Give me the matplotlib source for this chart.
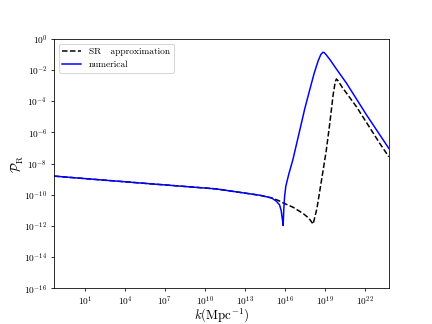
import matplotlib
matplotlib.use("Agg")
import matplotlib.pyplot as plt
from matplotlib import rcParams
from matplotlib.ticker import FixedLocator, NullLocator, LogFormatterMathtext

rcParams['font.family'] = 'serif'
rcParams['font.serif'] = ['cmr10']
rcParams['mathtext.fontset'] = 'cm'
rcParams['axes.formatter.use_mathtext'] = True

# log10(k) and log10(P_R)
logk_num = [-1.33, 2.0, 6.0, 10.82, 14.12, 15.0, 15.37, 15.6, 15.72, 15.8,
            15.87, 15.92, 15.98, 16.07, 16.3, 16.6, 17.12, 17.5, 17.87,
            18.2, 18.5, 18.7, 18.85, 18.95, 19.1, 19.4, 19.8, 20.63, 22.13,
            23.8]
logp_num = [-8.80, -9.03, -9.30, -9.62, -10.03, -10.2, -10.42, -10.65,
            -11.0, -11.5, -11.97, -10.9, -10.1, -9.45, -8.65, -7.75, -5.85,
            -4.45, -3.25, -2.2, -1.4, -1.0, -0.86, -0.88, -1.02, -1.35,
            -1.85, -2.85, -4.88, -7.02]

logk_sr = [-1.33, 2.0, 6.0, 10.82, 14.12, 15.0, 15.5, 15.87, 16.62, 17.37,
           17.8, 18.12, 18.4, 18.75, 19.1, 19.37, 19.62, 19.78, 19.87, 20.0,
           20.3, 21.37, 23.12, 23.8]
logp_sr = [-8.80, -9.03, -9.30, -9.62, -10.03, -10.2, -10.36, -10.52,
           -10.8, -11.2, -11.5, -11.88, -10.9, -9.06, -7.2, -5.42, -3.6,
           -2.75, -2.57, -2.7, -3.1, -4.35, -6.70, -7.56]

k_num = [10**v for v in logk_num]
p_num = [10**v for v in logp_num]
k_sr = [10**v for v in logk_sr]
p_sr = [10**v for v in logp_sr]

fig, ax = plt.subplots(figsize=(6, 4.5), dpi=72)

ax.plot(k_sr, p_sr, color='black', linestyle='--', linewidth=1.5,
        label='SR   approximation')
ax.plot(k_num, p_num, color='blue', linewidth=1.5, label='numerical')

ax.set_xscale('log')
ax.set_yscale('log')
ax.set_xlim(10**-1.33, 10**23.8)
ax.set_ylim(1e-16, 1)

ax.xaxis.set_major_locator(FixedLocator([10.0**e for e in range(1, 23, 3)]))
ax.yaxis.set_major_locator(FixedLocator([10.0**e for e in range(-16, 1, 2)]))
ax.xaxis.set_major_formatter(LogFormatterMathtext())
ax.yaxis.set_major_formatter(LogFormatterMathtext())
ax.xaxis.set_minor_locator(NullLocator())
ax.yaxis.set_minor_locator(NullLocator())
ax.tick_params(labelsize=9.4, length=3.3, pad=3.3)

ax.set_xlabel(r'$k(\mathrm{Mpc}^{-1})$', fontsize=13, labelpad=-1)
ax.set_ylabel(r'$\mathcal{P}_{\rm R}$', fontsize=13, labelpad=-2)

ax.legend(loc='upper left', fontsize=9.4)

fig.savefig('out.png', dpi=72)
